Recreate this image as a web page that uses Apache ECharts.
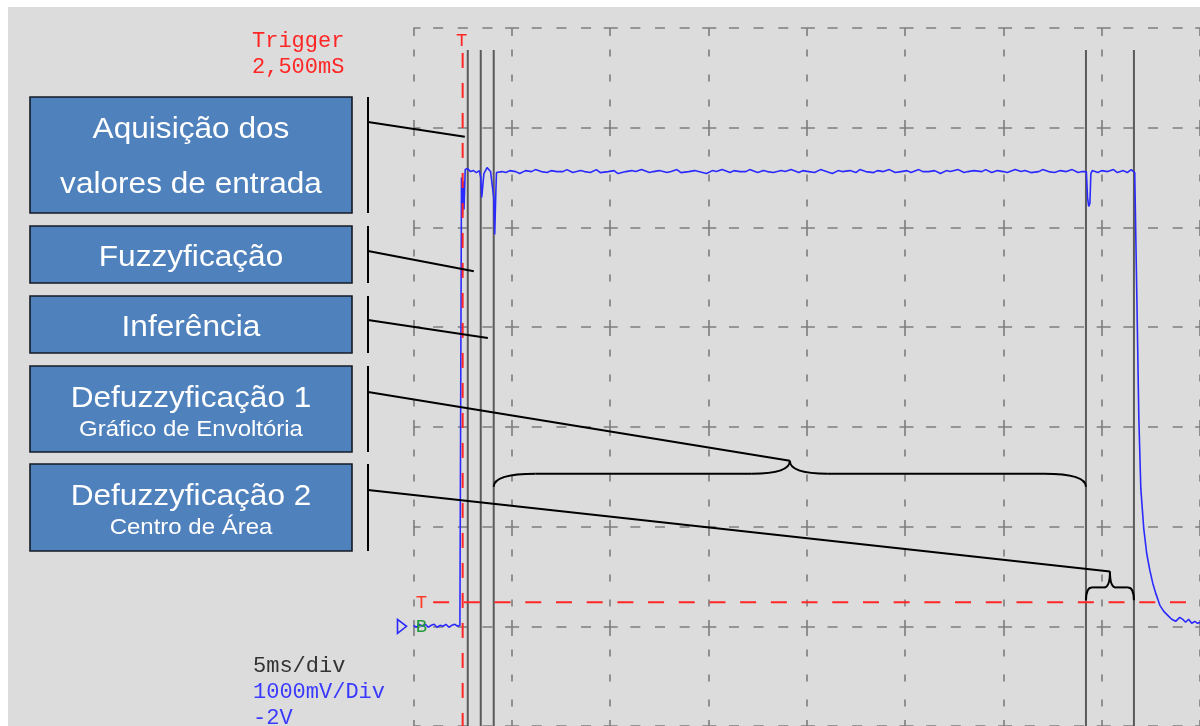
<!DOCTYPE html>
<html>
<head>
<meta charset="utf-8">
<script src="https://cdn.jsdelivr.net/npm/echarts@6/dist/echarts.min.js"></script>
<style>
  html, body { margin: 0; padding: 0; background: #ffffff; }
  #chart {
    width: 1200px; height: 726px;
    background: linear-gradient(#dcdcdc, #dcdcdc) no-repeat 8px 7px / 1192px 719px, #ffffff;
  }
</style>
</head>
<body>
<div id="chart"></div>
<script>
// Scope screen: 5 ms/div horizontally, 1000 mV/div vertically, channel B ground = 0 V
const timeRange = [0, 40];      // ms (8 divisions)
const voltRange = [-1, 6];      // V  (7 divisions visible)
const timePerDiv = 5;
const voltPerDiv = 1;

const triggerTime = 2.5;        // ms
const triggerLevel = 0.24;      // V
const triggerLevelStart = 1.0;  // ms, where the level marker line begins

// Cursor lines separating the controller stages (ms)
const cursorTimes = [2.76, 3.42, 4.08, 34.20, 36.64];

// Channel B samples: [time ms, voltage V]
const channelB = [
  [0.00, 0.01], [0.15, -0.01], [0.30, 0.02], [0.45, 0.00], [0.60, 0.02], [0.75, -0.01],
  [0.90, 0.01], [1.05, 0.02], [1.20, -0.01], [1.35, 0.01], [1.50, 0.00], [1.65, 0.02],
  [1.80, -0.01], [1.95, 0.01], [2.10, 0.02], [2.25, 0.00], [2.36, 0.01],
  [2.44, 4.50], [2.49, 4.14], [2.53, 4.46], [2.57, 4.18], [2.63, 4.58], [2.75, 4.59],
  [2.90, 4.56], [3.05, 4.57], [3.20, 4.55], [3.35, 4.57],
  [3.42, 4.50], [3.47, 4.30], [3.52, 4.28], [3.58, 4.54], [3.66, 4.56], [3.74, 4.60],
  [3.82, 4.59], [3.92, 4.56], [4.02, 4.55], [4.08, 4.30], [4.13, 3.93], [4.18, 4.30],
  [4.22, 4.55],
  [4.3, 4.55], [4.5, 4.56], [4.7, 4.55], [4.9, 4.57], [5.2, 4.56], [5.4, 4.54],
  [5.7, 4.57], [6.0, 4.56], [6.2, 4.58], [6.5, 4.56], [6.8, 4.55], [7.0, 4.57],
  [7.3, 4.56], [7.6, 4.56], [7.8, 4.58], [8.1, 4.55], [8.5, 4.57], [8.7, 4.56],
  [9.0, 4.55], [9.3, 4.58], [9.5, 4.55], [9.9, 4.56], [10.2, 4.57], [10.4, 4.54],
  [10.8, 4.56], [11.1, 4.57], [11.3, 4.56], [11.6, 4.58], [12.0, 4.55], [12.2, 4.56],
  [12.5, 4.57], [12.9, 4.55], [13.1, 4.56], [13.4, 4.58], [13.6, 4.55], [14.0, 4.56],
  [14.3, 4.57], [14.5, 4.56], [14.9, 4.54], [15.2, 4.57], [15.4, 4.56], [15.7, 4.58],
  [16.1, 4.55], [16.3, 4.57], [16.6, 4.56], [16.9, 4.56], [17.1, 4.58], [17.5, 4.55],
  [17.8, 4.57], [18.0, 4.56], [18.3, 4.55], [18.7, 4.57], [18.9, 4.56], [19.2, 4.58],
  [19.6, 4.55], [19.8, 4.57], [20.1, 4.56], [20.4, 4.55], [20.7, 4.58], [21.0, 4.56],
  [21.3, 4.54], [21.6, 4.57], [21.8, 4.56], [22.2, 4.57], [22.5, 4.55], [22.7, 4.58],
  [23.0, 4.56], [23.4, 4.55], [23.6, 4.57], [23.9, 4.56], [24.2, 4.58], [24.5, 4.55],
  [24.8, 4.56], [25.1, 4.57], [25.3, 4.55], [25.7, 4.58], [25.9, 4.56], [26.2, 4.56],
  [26.5, 4.57], [26.8, 4.54], [27.1, 4.57], [27.3, 4.56], [27.7, 4.58], [28.0, 4.55],
  [28.2, 4.56], [28.5, 4.57], [28.9, 4.56], [29.1, 4.58], [29.4, 4.55], [29.7, 4.57],
  [30.0, 4.56], [30.2, 4.55], [30.6, 4.58], [30.9, 4.56], [31.1, 4.57], [31.4, 4.55],
  [31.8, 4.56], [32.0, 4.58], [32.3, 4.56], [32.6, 4.55], [32.9, 4.57], [33.2, 4.56],
  [33.5, 4.58], [33.8, 4.55], [34.0, 4.56],
  [34.22, 4.56], [34.28, 4.30], [34.34, 4.21], [34.40, 4.24], [34.45, 4.54], [34.52, 4.57],
  [34.8, 4.55], [35.0, 4.57], [35.3, 4.56], [35.6, 4.58], [35.8, 4.55], [36.1, 4.57],
  [36.3, 4.55], [36.5, 4.58], [36.68, 4.55],
  [36.79, 3.28], [36.89, 2.08], [36.99, 1.38], [37.14, 0.98], [37.29, 0.73], [37.45, 0.56],
  [37.60, 0.43], [37.75, 0.33], [37.96, 0.21], [38.16, 0.15], [38.36, 0.11], [38.56, 0.07],
  [38.76, 0.05], [38.97, 0.09], [39.12, 0.07], [39.27, 0.04], [39.42, 0.07], [39.58, 0.03],
  [39.73, 0.05], [39.88, 0.03], [40.0, 0.04]
];

// Stage labels
const stageTitles = ['Aquisição dos\nvalores de entrada', 'Fuzzyficação', 'Inferência', 'Defuzzyficação 1', 'Defuzzyficação 2'];
const stageSubtitles = ['', '', '', 'Gráfico de Envoltória', 'Centro de Área'];

// Screen readouts
const triggerText = ['Trigger', '2,500mS'];
const scaleText = ['5ms/div', '1000mV/Div', '-2V'];

// ---- layout (pixels) ----
const boxX = 30, boxW = 322;
const boxRows = [[97, 213], [226, 283], [296, 353], [366, 452], [464, 551]];
const bracketX = 368;
const pointerStartY = [122, 251, 320, 392, 490];
// pointer ends given on the scope scale [ms, V]; the last two end on the braces
const pointerEnds = [[2.61, 4.91], [3.07, 3.56], [3.78, 2.89]];
// braces: [from ms, to ms, end V, shoulder V, tip V, end radius px, tip radius px]
const braces = [
  [4.08, 34.20, 1.40, 1.53, 1.66, 42, 38],
  [34.20, 36.64, 0.26, 0.39, 0.55, 6, 6]
];

const chart = echarts.init(document.getElementById('chart'), null, { renderer: 'canvas' });

const gridLeft = 413.5, gridTop = 28;
const divW = 98.6, divH = 100;

// dashed graticule with crosses at each major intersection
const vDash = [8, 13.5, 7, 18, 7, 18, 7, 13.5, 8, 0];
const hDash = [7, 12.65, 10, 14.65, 10, 14.65, 10, 12.65, 7, 0];
const gridColor = '#7d7d7d';
const red = '#ff2626';
const blue = '#2a2aff';

const series = [];
cursorTimes.forEach((t, i) => {
  series.push({
    name: 'cursor' + i, type: 'line', data: [[t, 5.78], [t, voltRange[0]]],
    symbol: 'none', silent: true, z: 1,
    lineStyle: { color: '#5a5a5a', width: 2 }
  });
});
series.push({
  name: 'Canal B', type: 'line', data: channelB, symbol: 'none', silent: true, z: 3,
  lineStyle: { color: blue, width: 1.6 }
});
series.push({
  name: 'trigger time', type: 'line', data: [[triggerTime, 5.75], [triggerTime, voltRange[0]]],
  symbol: 'none', silent: true, z: 4,
  lineStyle: { color: red, width: 2, type: [15, 15] }
});
series.push({
  name: 'trigger level', type: 'line', data: [[triggerLevelStart, triggerLevel], [timeRange[1], triggerLevel]],
  symbol: 'none', silent: true, z: 4,
  lineStyle: { color: red, width: 2, type: [16, 14.7] }
});

chart.setOption({
  backgroundColor: 'transparent',
  animation: false,
  grid: { left: gridLeft, top: gridTop, width: divW * 8, height: divH * 7, show: false },
  xAxis: {
    type: 'value', min: timeRange[0], max: timeRange[1], interval: timePerDiv,
    axisLine: { show: false }, axisTick: { show: false }, axisLabel: { show: false },
    splitLine: { show: true, showMinLine: true, showMaxLine: true,
      lineStyle: { color: gridColor, width: 1.6, type: vDash } }
  },
  yAxis: {
    type: 'value', min: voltRange[0], max: voltRange[1], interval: voltPerDiv,
    axisLine: { show: false }, axisTick: { show: false }, axisLabel: { show: false },
    splitLine: { show: true, showMinLine: true, showMaxLine: true,
      lineStyle: { color: gridColor, width: 1.6, type: hDash } }
  },
  series: series
});

const px = (t, v) => chart.convertToPixel({ gridIndex: 0 }, [t, v]);
const g = [];
const ink = '#000000';

function text(x, y, str, opts) {
  const el = {
    type: 'text', x: x, y: y, silent: true, z: 10,
    style: Object.assign({
      text: str, fill: '#000', fontSize: 20, fontFamily: 'Liberation Sans',
      align: 'left', verticalAlign: 'middle', textAlign: 'left', textVerticalAlign: 'middle'
    }, opts.style || {})
  };
  if (opts.scaleX) el.scaleX = opts.scaleX;
  g.push(el);
}
function seg(x1, y1, x2, y2, w) {
  g.push({ type: 'line', silent: true, z: 10,
    shape: { x1: x1, y1: y1, x2: x2, y2: y2 },
    style: { stroke: ink, lineWidth: w || 2 } });
}
function curve(x1, y1, cx, cy, x2, y2) {
  g.push({ type: 'bezierCurve', silent: true, z: 10,
    shape: { x1: x1, y1: y1, x2: x2, y2: y2, cpx1: cx, cpy1: cy },
    style: { stroke: ink, lineWidth: 2, fill: 'none' } });
}

// stage boxes, their side brackets and pointers
const mono = { fontFamily: 'Liberation Mono', fontSize: 22 };
const cx = boxX + boxW / 2;
boxRows.forEach((r, i) => {
  g.push({ type: 'rect', silent: true, z: 9,
    shape: { x: boxX, y: r[0], width: boxW, height: r[1] - r[0] },
    style: { fill: '#4f81bd', stroke: '#141a24', lineWidth: 1.6 } });
  seg(bracketX, r[0], bracketX, r[1], 2);
  const lines = stageTitles[i].split('\n');
  const sub = stageSubtitles[i];
  const center = {
    align: 'center', textAlign: 'center', fill: '#ffffff', fontSize: 29
  };
  if (lines.length === 2) {
    text(cx, r[0] + 33, lines[0], { style: center, scaleX: 1.09 });
    text(cx, r[0] + 88, lines[1], { style: center, scaleX: 1.09 });
  } else if (sub) {
    text(cx, r[0] + 33, lines[0], { style: center, scaleX: 1.09 });
    text(cx, r[0] + 64, sub, { style: Object.assign({}, center, { fontSize: 22 }), scaleX: 1.09 });
  } else {
    text(cx, (r[0] + r[1]) / 2 + 3, lines[0], { style: center, scaleX: 1.09 });
  }
});

pointerEnds.forEach((p, i) => {
  const e = px(p[0], p[1]);
  seg(bracketX, pointerStartY[i], e[0], e[1], 2);
});

braces.forEach((b, i) => {
  const a = px(b[0], b[2]), z = px(b[1], b[2]);
  const yH = px(b[0], b[3])[1], yT = px(b[0], b[4])[1];
  const xm = (a[0] + z[0]) / 2, r = b[5], rt = b[6];
  curve(a[0], a[1], a[0], yH, a[0] + r, yH);
  seg(a[0] + r, yH, xm - rt, yH, 2);
  curve(xm - rt, yH, xm, yH, xm, yT);
  curve(xm, yT, xm, yH, xm + rt, yH);
  seg(xm + rt, yH, z[0] - r, yH, 2);
  curve(z[0] - r, yH, z[0], yH, z[0], z[1]);
  seg(bracketX, pointerStartY[3 + i], xm, yT, 2);
});

// trigger readout and scale readouts
text(252, 41, triggerText[0], { style: Object.assign({ fill: red }, mono) });
text(252, 67, triggerText[1], { style: Object.assign({ fill: red }, mono) });
text(253, 666, scaleText[0], { style: Object.assign({ fill: '#333333' }, mono) });
text(253, 692, scaleText[1], { style: Object.assign({ fill: '#3a3aff' }, mono) });
text(253, 718, scaleText[2], { style: Object.assign({ fill: '#3a3aff' }, mono) });

// trigger position / level markers and channel B ground marker
const trigX = px(triggerTime, 0)[0];
text(trigX - 1, 41, 'T', { style: { fill: red, fontFamily: 'Liberation Mono', fontSize: 19, align: 'center', textAlign: 'center' } });
const lvlY = px(0, triggerLevel)[1];
const gndY = px(0, 0)[1];
text(gridLeft + 8, lvlY + 1, 'T', { style: { fill: '#ff3b2a', fontFamily: 'Liberation Mono', fontSize: 19, align: 'center', textAlign: 'center' } });
text(gridLeft + 8, gndY + 1, 'B', { style: { fill: '#1f9a3a', fontFamily: 'Liberation Mono', fontSize: 19, align: 'center', textAlign: 'center' } });
g.push({ type: 'polygon', silent: true, z: 10,
  shape: { points: [[gridLeft - 16, gndY - 7], [gridLeft - 7, gndY], [gridLeft - 16, gndY + 7]] },
  style: { fill: 'none', stroke: '#2a2aff', lineWidth: 1.6 } });

chart.setOption({ graphic: g });
</script>
</body>
</html>
